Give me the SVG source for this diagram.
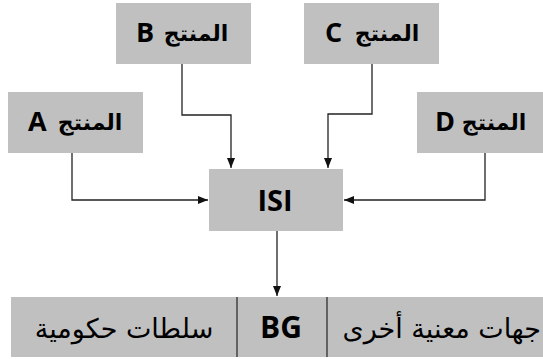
<svg xmlns="http://www.w3.org/2000/svg" width="543" height="359" viewBox="0 0 543 359">
  <style>
    .box { fill: #c0c0c0; }
    .lat { font-family: "Open Sans", "Noto Sans", "DejaVu Sans", sans-serif; font-weight: bold; fill: #000; }
    .ar { font-family: "DejaVu Sans", sans-serif; fill: #000; }
    .arb { font-family: "DejaVu Sans", sans-serif; font-weight: bold; fill: #000; }
    .conn { fill: none; stroke: #222; stroke-width: 1.3; }
    .div { stroke: #222; stroke-width: 1.2; }
  </style>
  <defs>
    <marker id="arr" viewBox="0 0 10 10" refX="10" refY="5" markerWidth="10" markerHeight="10" markerUnits="userSpaceOnUse" orient="auto">
      <path d="M0,1 L10,5 L0,9 Z" fill="#111"/>
    </marker>
  </defs>
  <rect width="543" height="359" fill="#fff"/>

  <g id="node-B">
    <rect class="box" x="116" y="3" width="135" height="61"/>
    <text class="lat" x="136" y="42" font-size="27">B</text>
    <text class="arb" x="196" y="41" font-size="22" text-anchor="middle" direction="rtl">المنتج</text>
  </g>
  <g id="node-C">
    <rect class="box" x="304" y="3" width="135" height="61"/>
    <text class="lat" x="325" y="42" font-size="27">C</text>
    <text class="arb" x="387" y="41" font-size="22" text-anchor="middle" direction="rtl">المنتج</text>
  </g>
  <g id="node-A">
    <rect class="box" x="8" y="92" width="135" height="61"/>
    <text class="lat" x="28" y="131" font-size="27">A</text>
    <text class="arb" x="90" y="130" font-size="22" text-anchor="middle" direction="rtl">المنتج</text>
  </g>
  <g id="node-D">
    <rect class="box" x="417" y="92" width="135" height="61"/>
    <text class="lat" x="435" y="131" font-size="27">D</text>
    <text class="arb" x="494" y="130" font-size="22" text-anchor="middle" direction="rtl">المنتج</text>
  </g>
  <g id="node-ISI">
    <rect class="box" x="209" y="169" width="134" height="62"/>
    <text class="lat" x="275" y="211" font-size="29" text-anchor="middle">ISI</text>
  </g>
  <g id="node-bottom">
    <rect class="box" x="11" y="297" width="540" height="60"/>
    <line class="div" x1="237" y1="297" x2="237" y2="357"/>
    <line class="div" x1="327" y1="297" x2="327" y2="357"/>
    <text class="ar" x="124" y="338" font-size="27" text-anchor="middle" direction="rtl">سلطات حكومية</text>
    <text class="lat" x="281" y="338" font-size="30" text-anchor="middle">BG</text>
    <text class="ar" x="541" y="338" font-size="27" text-anchor="start" direction="rtl">جهات معنية أخرى</text>
  </g>

  <g id="connectors">
    <path class="conn" d="M72,153 V200 H208" marker-end="url(#arr)"/>
    <path class="conn" d="M485,153 V200 H344" marker-end="url(#arr)"/>
    <path class="conn" d="M182,64 V115 H231 V168" marker-end="url(#arr)"/>
    <path class="conn" d="M372,64 V114 H328 V168" marker-end="url(#arr)"/>
    <path class="conn" d="M277,231 V296" marker-end="url(#arr)"/>
  </g>
</svg>
